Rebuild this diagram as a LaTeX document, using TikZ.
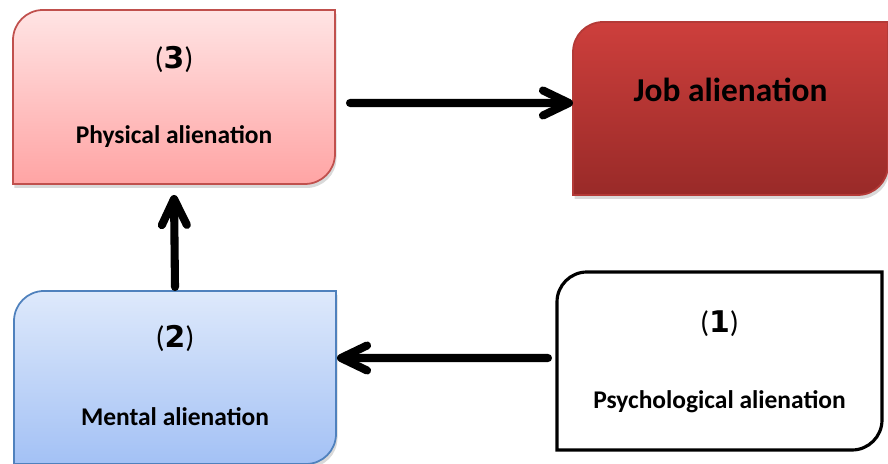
\documentclass[tikz,border=0pt]{standalone}
\usepackage{fontspec}
\setmainfont{Carlito}
\newfontfamily\digitfont{DejaVu Sans}
\usepackage{tikz}
\usetikzlibrary{positioning}
\usetikzlibrary{calc}
\usetikzlibrary{arrows.meta}
\usetikzlibrary{shadows}
\pgfdeclarelayer{nodelayer}
\pgfdeclarelayer{edgelayer}
\pgfsetlayers{edgelayer,nodelayer,main}
\definecolor{pinktop}{HTML}{FFE4E4}
\definecolor{pinkbot}{HTML}{FFA4A4}
\definecolor{pinkline}{HTML}{C0504D}
\definecolor{redtop}{HTML}{CD3F3C}
\definecolor{redbot}{HTML}{992A28}
\definecolor{redline}{HTML}{B33A37}
\definecolor{bluetop}{HTML}{DEE9FB}
\definecolor{bluebot}{HTML}{A3C1F5}
\definecolor{blueline}{HTML}{4F81BD}
\tikzstyle{none}=[inner sep=0pt, outer sep=0pt]
\tikzset{box/.style={inner sep=0pt, outer sep=0pt, minimum width=6.44cm, minimum height=3.48cm}}
\tikzset{shade/.style={drop shadow={shadow xshift=0.03cm, shadow yshift=-0.08cm, opacity=0.3}}}
\tikzset{num/.style={inner sep=0pt, font=\fontsize{17}{19}\selectfont}}
\tikzset{title/.style={inner sep=0pt, font=\bfseries\fontsize{14.5}{16}\selectfont}}
\tikzset{flow/.style={line width=4.6pt, line cap=round,
  -{Straight Barb[length=0.52cm, width=0.5cm, round]}}}
% box with round top left and bottom right corners
\newcommand{\diagbox}[3]{%
  \path[#2] ([yshift=-#3]#1.north west) arc[start angle=180, end angle=90, radius=#3]
    -- (#1.north east) -- ([yshift=#3]#1.south east)
    arc[start angle=0, end angle=-90, radius=#3] -- (#1.south west) -- cycle;}
\newcommand{\digit}[1]{({\digitfont\fontsize{17}{19}\selectfont\bfseries #1})}

\begin{document}
\begin{tikzpicture}
	\useasboundingbox (0,0) rectangle (17.76,9.28);
	\begin{pgfonlayer}{nodelayer}
		\node [style=box] (0) at (3.48, 7.34) {};
		\node [style=box, minimum width=6.30cm, minimum height=3.46cm] (1) at (14.61, 7.11) {};
		\node [style=box, minimum height=3.46cm] (2) at (3.50, 1.73) {};
		\node [style=box, minimum width=6.50cm, minimum height=3.56cm] (3) at (14.39, 2.06) {};
		\node [style=num] (4) at ([yshift=-0.98cm]0.north) {\digit{3}};
		\node [style=title] (5) at ([yshift=-2.54cm]0.north) {Physical alienation};
		\node [style=title, font=\bfseries\fontsize{19}{22}\selectfont] (6) at ([yshift=-1.36cm]1.north) {Job alienation};
		\node [style=num] (7) at ([yshift=-0.94cm]2.north) {\digit{2}};
		\node [style=title] (8) at ([yshift=-2.52cm]2.north) {Mental alienation};
		\node [style=num] (9) at ([yshift=-1.04cm]3.north) {\digit{1}};
		\node [style=title] (10) at ([yshift=-2.6cm]3.north) {Psychological alienation};
	\end{pgfonlayer}
	\begin{pgfonlayer}{edgelayer}
		\diagbox{0}{top color=pinktop, bottom color=pinkbot, draw=pinkline, line width=1pt, shade}{0.6cm}
		\diagbox{1}{top color=redtop, bottom color=redbot, draw=redline, line width=1pt, shade}{0.6cm}
		\diagbox{2}{top color=bluetop, bottom color=bluebot, draw=blueline, line width=1pt, shade}{0.6cm}
		\diagbox{3}{fill=white, draw=black, line width=1.8pt}{0.6cm}
	\end{pgfonlayer}
	\draw [style=flow] ([xshift=0.3cm, yshift=-0.12cm]0.east) -- ([yshift=0.11cm]1.west);
	\draw [style=flow] ([yshift=0.08cm]2.north) -- ([yshift=-0.22cm]0.south);
	\draw [style=flow] ([xshift=-0.18cm, yshift=0.06cm]3.west) -- ([xshift=0.02cm, yshift=0.39cm]2.east);
\end{tikzpicture}
\end{document}
